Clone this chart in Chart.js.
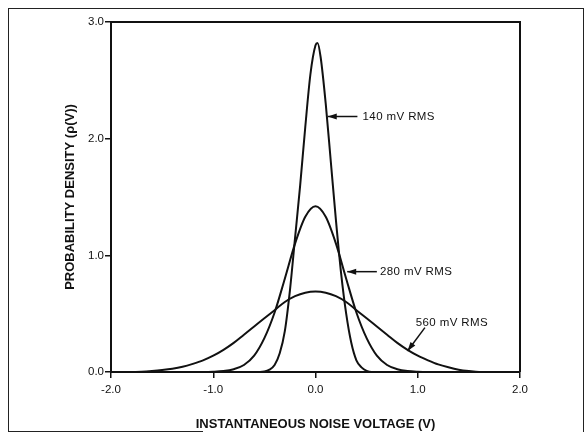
<!DOCTYPE html>
<html>
<head>
<meta charset="utf-8">
<script src="https://cdn.jsdelivr.net/npm/chart.js@4.4.1/dist/chart.umd.min.js"></script>
<style>
  html, body { margin: 0; padding: 0; background: #fff; }
  #wrap { position: relative; width: 587px; height: 441px; overflow: hidden; }
  #noiseChart { position: absolute; left: 0; top: 0; }
  #frame { position: absolute; left: 8px; top: 8px; width: 574px; height: 423px;
           border: 1.5px solid #222; border-bottom: none; }
  #frameBottom { position: absolute; left: 8px; top: 431px; width: 195px; border-top: 1.5px solid #222; }
</style>
</head>
<body>
<div id="wrap">
  <div id="frame"></div>
  <div id="frameBottom"></div>
  <canvas id="noiseChart" width="587" height="441"></canvas>
</div>
<script>
// --- datos ---
const xTicks = [-2, -1, 0, 1, 2];
const yTicks = [0, 1, 2, 3];

// 140 mV RMS
const x140 = [-2.0, -0.6, -0.5, -0.45, -0.4, -0.35, -0.3, -0.25, -0.2, -0.15, -0.1, -0.05, 0.0, 0.02, 0.05, 0.1, 0.15, 0.2, 0.25, 0.3, 0.35, 0.4, 0.45, 0.5, 0.55, 0.65, 2.0];
const y140 = [0, 0, 0.005, 0.02, 0.06, 0.16, 0.35, 0.7, 1.15, 1.6, 2.1, 2.55, 2.8, 2.82, 2.7, 2.3, 1.8, 1.3, 0.85, 0.5, 0.25, 0.1, 0.04, 0.01, 0, 0, 0];

// 280 mV RMS
const x280 = [-2.0, -1.1, -1.0, -0.9, -0.8, -0.7, -0.6, -0.5, -0.4, -0.3, -0.2, -0.1, 0.0, 0.1, 0.2, 0.3, 0.4, 0.5, 0.6, 0.7, 0.8, 0.9, 1.0, 1.1, 2.0];
const y280 = [0, 0, 0.002, 0.008, 0.024, 0.06, 0.14, 0.29, 0.51, 0.8, 1.1, 1.33, 1.42, 1.33, 1.1, 0.8, 0.51, 0.29, 0.14, 0.06, 0.024, 0.008, 0.002, 0, 0];

// 560 mV RMS
const x560 = [-2.0, -1.8, -1.7, -1.6, -1.5, -1.4, -1.3, -1.2, -1.1, -1.0, -0.9, -0.8, -0.7, -0.6, -0.5, -0.4, -0.3, -0.2, -0.1, 0.0, 0.1, 0.2, 0.3, 0.4, 0.5, 0.6, 0.7, 0.8, 0.9, 1.0, 1.1, 1.2, 1.3, 1.4, 1.5, 1.6, 2.0];
const y560 = [0, 0, 0.003, 0.009, 0.017, 0.028, 0.045, 0.07, 0.1, 0.14, 0.19, 0.25, 0.32, 0.39, 0.46, 0.53, 0.6, 0.65, 0.68, 0.69, 0.68, 0.65, 0.6, 0.53, 0.46, 0.39, 0.32, 0.25, 0.19, 0.14, 0.1, 0.065, 0.04, 0.02, 0.008, 0, 0];

// etiquetas con flecha (en unidades de datos)
const labelText = ['140 mV RMS', '280 mV RMS', '560 mV RMS'];
const arrowTip  = [[0.12, 2.19], [0.31, 0.86], [0.90, 0.18]];
const arrowTail = [[0.41, 2.19], [0.60, 0.86], [1.07, 0.38]];
const textPos   = [[0.46, 2.19], [0.63, 0.86], [0.98, 0.42]];

const INK = '#111';

function toPoints(xs, ys) {
    return xs.map((x, i) => ({ x: x, y: ys[i] }));
}

function curve(xs, ys) {
    return {
        data: toPoints(xs, ys),
        borderColor: INK,
        borderWidth: 2,
        pointRadius: 0,
        fill: false,
        cubicInterpolationMode: 'monotone'
    };
}

// marco superior y derecho del área del gráfico
const boxPlugin = {
    id: 'box',
    afterDraw(chart) {
        const { ctx, chartArea: a } = chart;
        ctx.save();
        ctx.strokeStyle = INK;
        ctx.lineWidth = 2;
        ctx.beginPath();
        ctx.moveTo(a.left, a.top);
        ctx.lineTo(a.right, a.top);
        ctx.lineTo(a.right, a.bottom);
        ctx.stroke();
        ctx.restore();
    }
};

// flechas y textos de cada curva
const arrowPlugin = {
    id: 'arrows',
    afterDatasetsDraw(chart) {
        const { ctx, scales: { x, y } } = chart;
        ctx.save();
        ctx.strokeStyle = INK;
        ctx.fillStyle = INK;
        ctx.lineWidth = 1.5;
        ctx.font = '11.5px "Liberation Sans", Arial, sans-serif';
        ctx.letterSpacing = '0.4px';
        ctx.textBaseline = 'middle';
        labelText.forEach((txt, i) => {
            const tx = x.getPixelForValue(arrowTip[i][0]);
            const ty = y.getPixelForValue(arrowTip[i][1]);
            const sx = x.getPixelForValue(arrowTail[i][0]);
            const sy = y.getPixelForValue(arrowTail[i][1]);
            const ang = Math.atan2(ty - sy, tx - sx);
            ctx.beginPath();
            ctx.moveTo(sx, sy);
            ctx.lineTo(tx, ty);
            ctx.stroke();
            ctx.beginPath();
            ctx.moveTo(tx, ty);
            ctx.lineTo(tx - 9 * Math.cos(ang) + 3 * Math.sin(ang), ty - 9 * Math.sin(ang) - 3 * Math.cos(ang));
            ctx.lineTo(tx - 9 * Math.cos(ang) - 3 * Math.sin(ang), ty - 9 * Math.sin(ang) + 3 * Math.cos(ang));
            ctx.closePath();
            ctx.fill();
            ctx.fillText(txt, x.getPixelForValue(textPos[i][0]), y.getPixelForValue(textPos[i][1]));
        });
        ctx.restore();
    }
};

const tickFont = { family: '"Liberation Sans", Arial, sans-serif', size: 11.5 };
const titleFont = { family: '"Liberation Sans", Arial, sans-serif', size: 13, weight: 'bold' };

new Chart(document.getElementById('noiseChart'), {
    type: 'line',
    data: {
        datasets: [curve(x140, y140), curve(x280, y280), curve(x560, y560)]
    },
    options: {
        responsive: false,
        animation: false,
        layout: { padding: { top: 22, right: 67, bottom: 0, left: 0 } },
        plugins: { legend: { display: false }, tooltip: { enabled: false } },
        scales: {
            x: {
                type: 'linear', min: xTicks[0], max: xTicks[xTicks.length - 1],
                afterBuildTicks: s => { s.ticks = xTicks.map(v => ({ value: v })); },
                ticks: { color: INK, font: tickFont, padding: 5, maxRotation: 0,
                         callback: v => v.toFixed(1) },
                grid: { drawOnChartArea: false, drawTicks: true, tickLength: 6, color: INK, lineWidth: 1.5 },
                border: { display: true, color: INK, width: 2 },
                title: { display: true, text: 'INSTANTANEOUS NOISE VOLTAGE (V)', color: INK,
                         font: titleFont, padding: { top: 0, bottom: 9 } },
                afterFit: s => { s.height = 69; }
            },
            y: {
                type: 'linear', min: yTicks[0], max: yTicks[yTicks.length - 1],
                afterBuildTicks: s => { s.ticks = yTicks.map(v => ({ value: v })); },
                ticks: { color: INK, font: tickFont, padding: 1,
                         callback: v => v.toFixed(1) },
                grid: { drawOnChartArea: false, drawTicks: true, tickLength: 6, color: INK, lineWidth: 1.5 },
                border: { display: true, color: INK, width: 2 },
                title: { display: true, text: 'PROBABILITY DENSITY (ρ(V))', color: INK,
                         font: titleFont, padding: { top: 63, bottom: 0 } },
                afterFit: s => { s.width = 111; }
            }
        }
    },
    plugins: [boxPlugin, arrowPlugin]
});
</script>
</body>
</html>
